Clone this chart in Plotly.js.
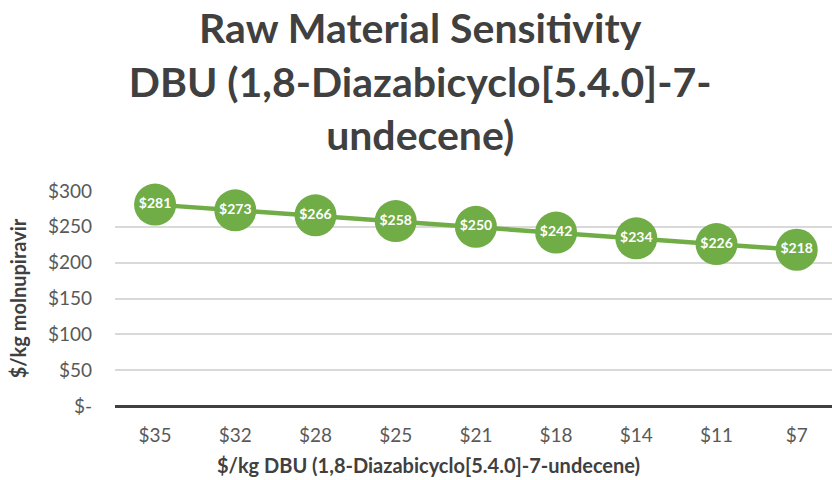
<!DOCTYPE html>
<html>
<head>
<meta charset="utf-8">
<script src="https://cdn.plot.ly/plotly-3.0.1.min.js"></script>
<style>html,body{margin:0;padding:0;background:#fff;}#chart{width:832px;height:480px;}</style>
</head>
<body>
<div id="chart"></div>
<script>
const categories = ["$35", "$32", "$28", "$25", "$21", "$18", "$14", "$11", "$7"];
const costPerKg = [281, 273, 266, 258, 250, 242, 234, 226, 218];
const pointLabels = ["$281", "$273", "$266", "$258", "$250", "$242", "$234", "$226", "$218"];
const yTickVals = [0, 50, 100, 150, 200, 250, 300];
const yTickText = ["$-", "$50", "$100", "$150", "$200", "$250", "$300"];

const FONT = "Lato, 'Open Sans', sans-serif";
const green = "#70ad47";

const trace = {
  x: categories,
  y: costPerKg,
  type: "scatter",
  mode: "lines+markers+text",
  text: pointLabels,
  textposition: "middle center",
  textfont: {family: FONT, size: 14, color: "#ffffff", weight: "bold"},
  line: {color: green, width: 4.5},
  marker: {color: green, size: 42, line: {width: 0}},
  hoverinfo: "x+y",
  cliponaxis: false
};

const layout = {
  width: 832,
  height: 480,
  margin: {l: 115, r: 0, t: 191, b: 74},
  paper_bgcolor: "#ffffff",
  plot_bgcolor: "#ffffff",
  font: {family: FONT, color: "#595959"},
  showlegend: false,
  title: {
    text: "Raw Material Sensitivity<br>DBU (1,8-Diazabicyclo[5.4.0]-7-<br>undecene)",
    font: {family: FONT, size: 41, color: "#404040", weight: "bold"},
    x: 0.505, xref: "container", xanchor: "center",
    y: 0.91, yref: "container", yanchor: "middle"
  },
  xaxis: {
    type: "category",
    range: [-0.5, 8.44],
    showgrid: false,
    showline: false,
    zeroline: false,
    ticks: "",
    tickfont: {family: FONT, size: 19, color: "#595959"},
    ticklabelstandoff: 16
  },
  yaxis: {
    range: [0, 300],
    tickvals: yTickVals,
    ticktext: yTickText,
    showgrid: true,
    gridcolor: "#d9d9d9",
    gridwidth: 1.5,
    zeroline: true,
    zerolinecolor: "#404040",
    zerolinewidth: 3,
    showline: false,
    ticks: "",
    tickfont: {family: FONT, size: 19, color: "#595959"},
    ticklabelstandoff: 22,
    title: {
      text: "$/kg molnupiravir",
      font: {family: FONT, size: 20, color: "#404040", weight: "bold"},
      standoff: 15
    }
  },
  annotations: [{
    text: "$/kg DBU (1,8-Diazabicyclo[5.4.0]-7-undecene)",
    xref: "paper", yref: "paper",
    x: 0.437, y: -0.274,
    xanchor: "center", yanchor: "middle",
    showarrow: false,
    font: {family: FONT, size: 20, color: "#404040", weight: "bold"}
  }]
};

Plotly.newPlot("chart", [trace], layout, {displayModeBar: false, responsive: false});
</script>
</body>
</html>
